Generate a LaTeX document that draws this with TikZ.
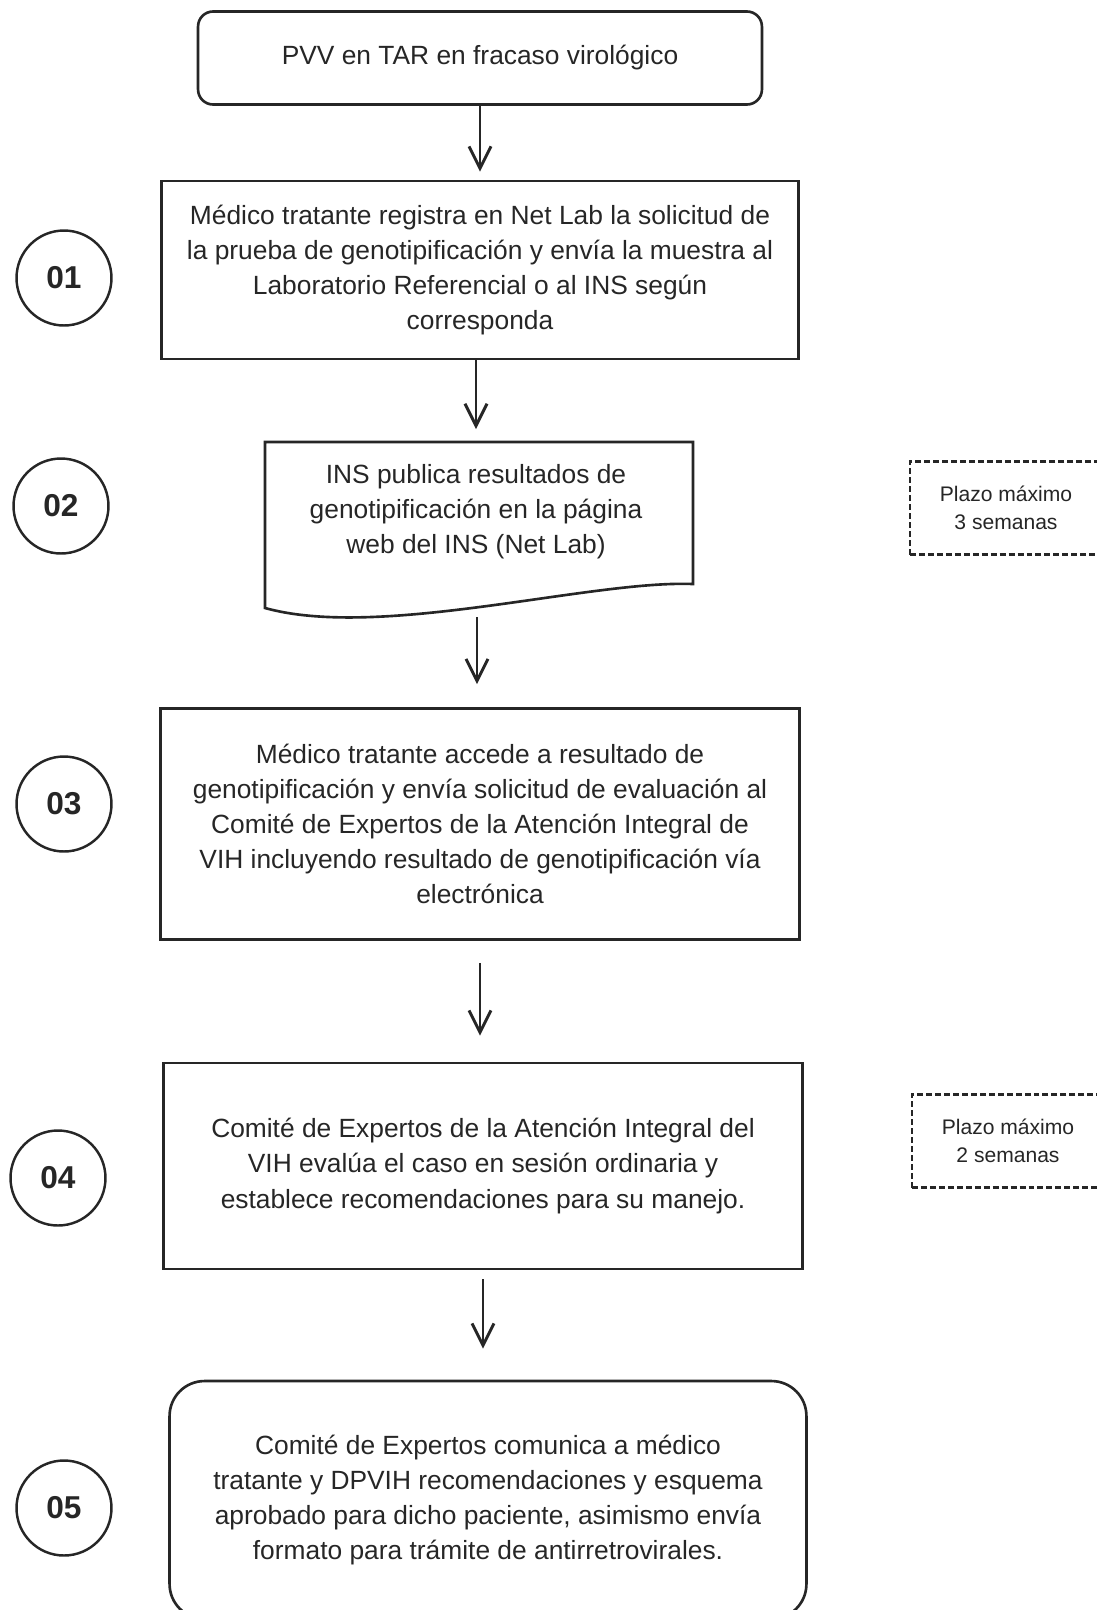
\documentclass[tikz,border=0pt]{standalone}
\usepackage{fontspec}
\setmainfont{Liberation Sans}
\usetikzlibrary{arrows.meta, positioning}

\begin{document}
\begin{tikzpicture}[x=0.02cm, y=-0.02cm, color=black!85,
    >={Straight Barb[length=0.44cm, width=0.44cm]},
    caja/.style={draw, rectangle, line width=1.5pt, inner sep=0pt, align=center, font=\fontsize{15}{20}\selectfont},
    paso/.style={draw, circle, line width=1.4pt, minimum size=1.9cm, font=\fontsize{18}{20}\selectfont\bfseries},
    plazo/.style={draw, rectangle, line width=1.2pt, dash pattern=on 3.4pt off 1.7pt, minimum width=3.84cm, minimum height=1.86cm, align=center, font=\fontsize{12}{15.7}\selectfont},
    flecha/.style={->, line width=1.7pt}]
    \useasboundingbox (0,0) rectangle (1097,1610);

    % inicio
    \node[caja, rounded corners=0.3cm, minimum width=11.28cm, minimum height=1.86cm] (inicio) at (480,58) {PVV en TAR en fracaso virológico};

    % pasos del flujo
    \node[caja, minimum width=12.74cm, minimum height=3.56cm] (b01) at (480,270) {Médico tratante registra en Net Lab la solicitud de\\la prueba de genotipificación y envía la muestra al\\Laboratorio Referencial o al INS según\\corresponda};

    \node[align=center, font=\fontsize{15}{20}\selectfont] (b02) at (476,512) {INS publica resultados de\\genotipificación en la página\\web del INS (Net Lab)};
    \draw[line width=1.5pt] (265,608) -- (265,442) -- (693,442) -- (693,584) .. controls (590,580) and (380,640) .. (265,608) -- cycle;
    \coordinate (b02n) at (476,442);
    \coordinate (b02s) at (477,617);

    \node[caja, minimum width=12.78cm, minimum height=4.62cm] (b03) at (480,824) {Médico tratante accede a resultado de\\genotipificación y envía solicitud de evaluación al\\Comité de Expertos de la Atención Integral de\\VIH incluyendo resultado de genotipificación vía\\electrónica};

    \node[caja, minimum width=12.78cm, minimum height=4.12cm] (b04) at (483,1166) {Comité de Expertos de la Atención Integral del\\VIH evalúa el caso en sesión ordinaria y\\establece recomendaciones para su manejo.};

    \node[caja, rounded corners=0.7cm, minimum width=12.74cm, minimum height=4.76cm] (b05) at (488,1500) {Comité de Expertos comunica a médico\\tratante y DPVIH recomendaciones y esquema\\aprobado para dicho paciente, asimismo envía\\formato para trámite de antirretrovirales.};

    % numeros de paso
    \node[paso] (c01) at (64,278) {01};
    \node[paso] (c02) at (61,506) {02};
    \node[paso] (c03) at (64,804) {03};
    \node[paso] (c04) at (58,1178) {04};
    \node[paso] (c05) at (64,1508) {05};

    % plazos
    \node[plazo] (p1) at (1006,508) {Plazo máximo\\3 semanas};
    \node[plazo] (p2) at (1008,1141) {Plazo máximo\\2 semanas};

    % flechas
    \draw[flecha, shorten >=0.16cm] (inicio.south) -- (b01.north);
    \draw[flecha, shorten >=0.26cm] (b01.south -| b02n) -- (b02n);
    \draw[flecha, shorten >=0.46cm] (b02s) -- (b02s |- b03.north);
    \draw[flecha, shorten <=0.44cm, shorten >=0.52cm] (b03.south) -- (b03.south |- b04.north);
    \draw[flecha, shorten <=0.18cm, shorten >=0.62cm] (b04.south) -- (b04.south |- b05.north);
\end{tikzpicture}
\end{document}
